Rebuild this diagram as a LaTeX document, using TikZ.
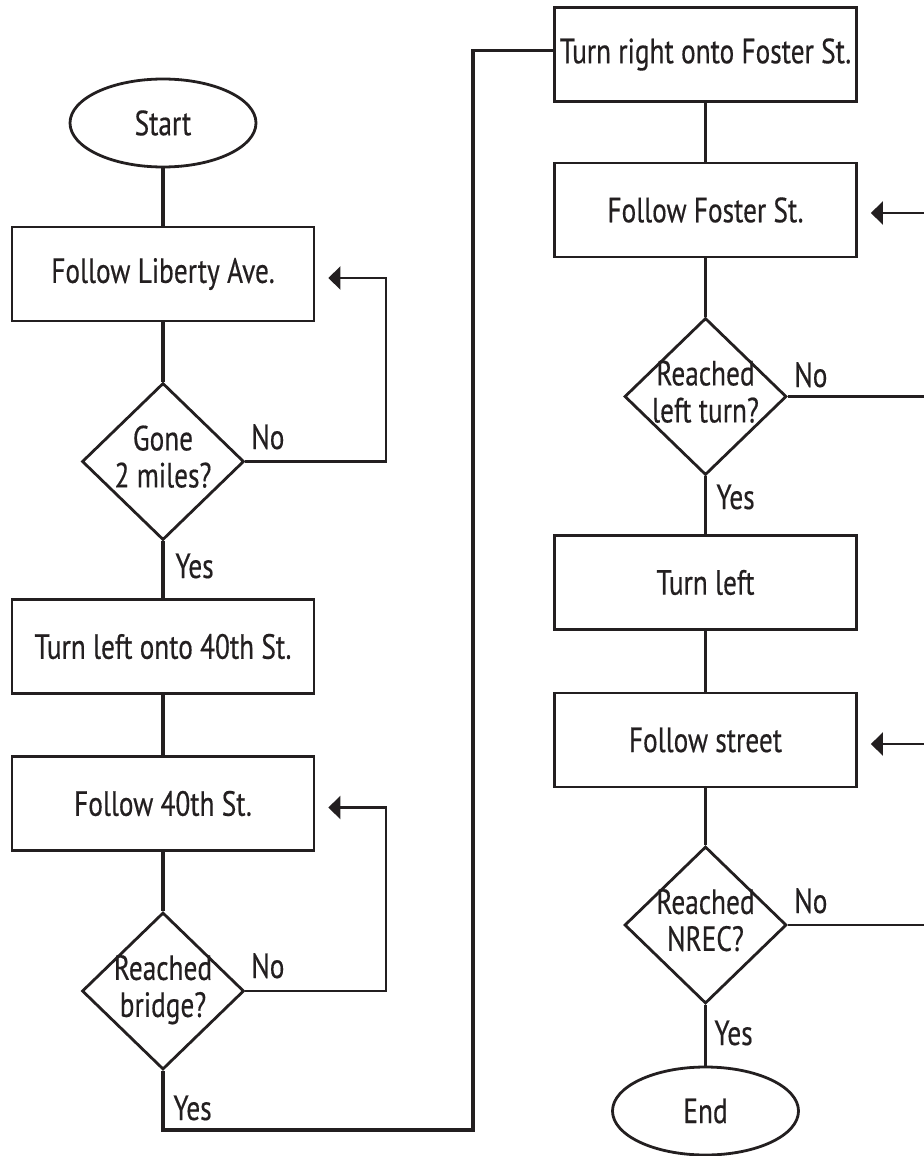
\documentclass[tikz,border=0pt]{standalone}
\usepackage{fontspec}
\setmainfont[FakeStretch=0.78,FakeBold=0.4]{PT Sans}
\usetikzlibrary{shapes.geometric,arrows.meta}
\definecolor{ink}{HTML}{231F20}
\newcommand{\asktext}[2]{\makebox[0pt]{\begin{tabular}{@{}c@{}}#1\\#2\end{tabular}}}
\begin{document}
\begin{tikzpicture}[x=0.5pt,y=-0.5pt,
    every node/.style={text=ink,font=\fontsize{17.5}{18.5}\selectfont},
    terminal/.style={draw=ink,line width=1.4pt,ellipse,inner sep=0pt,minimum width=93pt,minimum height=44pt},
    process/.style={draw=ink,line width=1.4pt,rectangle,inner sep=0pt,minimum width=151pt,minimum height=47pt},
    decision/.style={draw=ink,line width=1.4pt,diamond,inner sep=0pt,minimum width=81pt,minimum height=78.5pt},
    answer/.style={anchor=base west,inner sep=0pt},
    flow/.style={draw=ink,line width=1.9pt},
    back/.style={draw=ink,line width=1.4pt,-{Triangle[length=6pt,width=11.5pt]},shorten >=6.5pt}]
  \useasboundingbox (0,0) rectangle (924,1156);
  \clip (0,0) rectangle (924,1156);
  % left column
  \draw
    (163,123) node[terminal] (start){Start}
    (163,274) node[process] (liberty){Follow Liberty Ave.}
    (163,461.5) node[decision] (gone){\asktext{Gone}{2 miles?}}
    (163,646.5) node[process] (turnforty){Turn left onto 40th St.}
    (163,803.5) node[process] (followforty){Follow 40th St.}
    (163,991) node[decision] (bridge){\asktext{Reached}{bridge?}};
  % right column
  \draw
    (705.5,54.5) node[process] (turnright){Turn right onto Foster St.}
    (705.5,210) node[process] (foster){Follow Foster St.}
    (705.5,396.5) node[decision] (leftturn){\asktext{Reached}{left turn?}}
    (705.5,582.5) node[process] (turnleft){Turn left}
    (705.5,740) node[process] (street){Follow street}
    (705.5,925) node[decision] (nrec){\asktext{Reached}{NREC?}}
    (705.5,1111) node[terminal] (finish){End};
  % answers
  \draw
    (251,449) node[answer] (goneno){No}
    (175,578) node[answer] (goneyes){Yes}
    (251,978) node[answer] (bridgeno){No}
    (173,1120) node[answer] (bridgeyes){Yes}
    (794,387) node[answer] (leftturnno){No}
    (716,509) node[answer] (leftturnyes){Yes}
    (794,913) node[answer] (nrecno){No}
    (714,1045) node[answer] (nrecyes){Yes};
  \coordinate (lbend) at (386,0);
  \coordinate (rbend) at (950,0);
  \coordinate (ybend) at (473,1130);
  \begin{scope}[flow]
    \draw (start) to (liberty);
    \draw (liberty) to (gone);
    \draw (gone) to (turnforty);
    \draw (turnforty) to (followforty);
    \draw (followforty) to (bridge);
    \draw (bridge.south) |- (ybend) |- ([yshift=2pt]turnright.west);
    \draw (turnright) to (foster);
    \draw (foster) to (leftturn);
    \draw (leftturn) to (turnleft);
    \draw (turnleft) to (street);
    \draw (street) to (nrec);
    \draw (nrec) to (finish);
  \end{scope}
  \begin{scope}[back]
    \draw (gone.east) -- (gone.east -| lbend) |- ([yshift=-2pt]liberty.east);
    \draw (bridge.east) -- (bridge.east -| lbend) |- ([yshift=-2pt]followforty.east);
    \draw (leftturn.east) -- (leftturn.east -| rbend) |- ([yshift=-1.5pt]foster.east);
    \draw (nrec.east) -- (nrec.east -| rbend) |- ([yshift=-2pt]street.east);
  \end{scope}
\end{tikzpicture}
\end{document}
